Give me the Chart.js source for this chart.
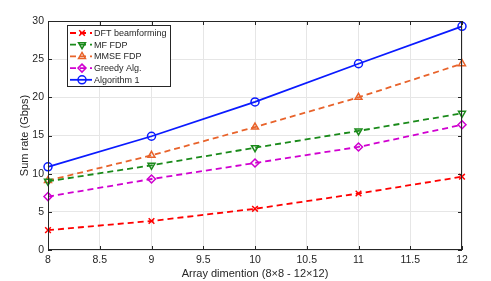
<!DOCTYPE html>
<html>
<head>
<meta charset="utf-8">
<script src="https://cdn.jsdelivr.net/npm/chart.js@4"></script>
<style>
  html, body { margin: 0; padding: 0; background: #fff; }
  #wrap { width: 491px; height: 281px; }
</style>
</head>
<body>
<div id="wrap"><canvas id="c" width="491" height="281"></canvas></div>
<script>
// data
const dims = [8, 9, 10, 11, 12];
const dftRate = [2.6, 3.8, 5.4, 7.4, 9.6];
const mfRate = [9.0, 11.1, 13.4, 15.6, 17.9];
const mmseRate = [9.1, 12.4, 16.1, 20.0, 24.4];
const greedyRate = [7.0, 9.3, 11.4, 13.5, 16.4];
const alg1Rate = [10.9, 14.9, 19.4, 24.4, 29.3];
const xTicks = [8, 8.5, 9, 9.5, 10, 10.5, 11, 11.5, 12];
const yTicks = [0, 5, 10, 15, 20, 25, 30];

const FONT = 'Liberation Sans, Arial, sans-serif';

function pts(arr) {
    return dims.map((d, i) => ({ x: d, y: arr[i] }));
}

function series(label, arr, color, style, rot, dashed) {
    return {
        label: label,
        data: pts(arr),
        borderColor: color,
        backgroundColor: 'rgba(0,0,0,0)',
        pointBorderColor: color,
        pointBackgroundColor: 'rgba(0,0,0,0)',
        pointStyle: style,
        pointRotation: rot,
        pointRadius: 4,
        pointBorderWidth: 1.5,
        borderWidth: 1.8,
        borderDash: dashed ? [6, 4] : [],
        tension: 0,
        clip: false
    };
}

// MATLAB-like box, inner ticks and legend inside the axes
const boxPlugin = {
    id: 'box',
    afterDatasetsDraw(chart) {
        const ctx = chart.ctx;
        const a = chart.chartArea;
        const xs = chart.scales.x, ys = chart.scales.y;
        ctx.save();
        ctx.strokeStyle = '#262626';
        ctx.lineWidth = 1;
        ctx.strokeRect(a.left + 0.5, a.top + 0.5, a.right - a.left - 1, a.bottom - a.top - 1);
        ctx.beginPath();
        xTicks.forEach(v => {
            const px = Math.round(xs.getPixelForValue(v)) + 0.5;
            ctx.moveTo(px, a.bottom); ctx.lineTo(px, a.bottom - 4);
            ctx.moveTo(px, a.top); ctx.lineTo(px, a.top + 4);
        });
        yTicks.forEach(v => {
            const py = Math.round(ys.getPixelForValue(v)) + 0.5;
            ctx.moveTo(a.left, py); ctx.lineTo(a.left + 4, py);
            ctx.moveTo(a.right, py); ctx.lineTo(a.right - 4, py);
        });
        ctx.stroke();

        // legend
        const lx = 67, ly = 25, lw = 103, lh = 61;
        ctx.fillStyle = '#fff';
        ctx.fillRect(lx, ly, lw, lh);
        ctx.strokeStyle = '#262626';
        ctx.strokeRect(lx + 0.5, ly + 0.5, lw, lh);
        ctx.font = '9px ' + FONT;
        ctx.textBaseline = 'middle';
        chart.data.datasets.forEach((ds, i) => {
            const y = ly + 8 + i * 11.7;
            ctx.strokeStyle = ds.borderColor;
            ctx.lineWidth = ds.borderWidth;
            ctx.setLineDash(ds.borderDash);
            ctx.beginPath();
            ctx.moveTo(lx + 3, y); ctx.lineTo(lx + 25, y);
            ctx.stroke();
            ctx.setLineDash([]);
            ctx.lineWidth = ds.pointBorderWidth;
            ctx.fillStyle = 'rgba(0,0,0,0)';
            Chart.helpers.drawPoint(ctx, {
                pointStyle: ds.pointStyle,
                rotation: ds.pointRotation,
                radius: 4,
                borderWidth: ds.pointBorderWidth
            }, lx + 15, y);
            ctx.fillStyle = '#262626';
            ctx.fillText(ds.label, lx + 27, y + 0.5);
        });
        ctx.restore();
    }
};

new Chart(document.getElementById('c'), {
    type: 'line',
    data: {
        datasets: [
            series('DFT beamforming', dftRate, '#ff0000', 'crossRot', 0, true),
            series('MF FDP', mfRate, '#1a8a1a', 'triangle', 180, true),
            series('MMSE FDP', mmseRate, '#e8632b', 'triangle', 0, true),
            series('Greedy Alg.', greedyRate, '#d000d0', 'rectRot', 0, true),
            series('Algorithm 1', alg1Rate, '#0a1aff', 'circle', 0, false)
        ]
    },
    options: {
        responsive: false,
        animation: false,
        layout: { padding: { left: 18, right: 29, top: 21, bottom: 0 } },
        plugins: { legend: { display: false }, tooltip: { enabled: false } },
        scales: {
            x: {
                type: 'linear',
                min: 8, max: 12,
                afterBuildTicks: s => { s.ticks = xTicks.map(v => ({ value: v })); },
                afterFit: s => { s.height = 31; },
                grid: { color: '#e6e6e6', drawTicks: false },
                border: { display: false },
                ticks: { color: '#262626', font: { family: FONT, size: 10.5 }, padding: 4, maxRotation: 0,
                         callback: v => String(v) },
                title: { display: true, text: 'Array dimention (8×8 - 12×12)', color: '#262626',
                         font: { family: FONT, size: 11 }, padding: { top: 1, bottom: 0 } }
            },
            y: {
                min: 0, max: 30,
                afterBuildTicks: s => { s.ticks = yTicks.map(v => ({ value: v })); },
                afterFit: s => { s.width = 30; },
                grid: { color: '#e6e6e6', drawTicks: false },
                border: { display: false },
                ticks: { color: '#262626', font: { family: FONT, size: 10.5 }, padding: 4,
                         callback: v => String(v) },
                title: { display: true, text: 'Sum rate (Gbps)', color: '#262626',
                         font: { family: FONT, size: 11 }, padding: { top: 0, bottom: 0 } }
            }
        }
    },
    plugins: [boxPlugin]
});
</script>
</body>
</html>
